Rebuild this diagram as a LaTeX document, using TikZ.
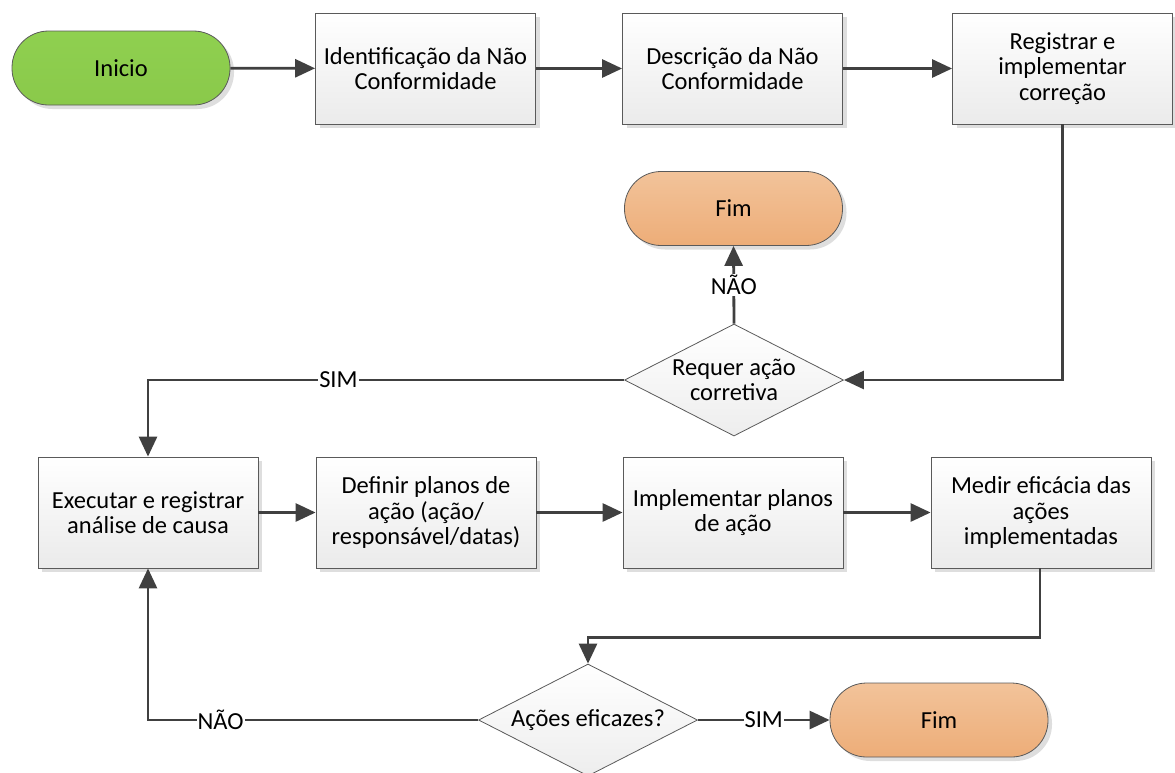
\documentclass[tikz,border=0pt]{standalone}
\usepackage{fontspec}
\setmainfont{Carlito}
\usetikzlibrary{shapes.geometric,shadows,arrows.meta}
\definecolor{linec}{HTML}{404040}
\definecolor{borderc}{HTML}{5A5A5A}
\definecolor{greentop}{HTML}{8FD050}
\definecolor{greenbot}{HTML}{8AC94A}
\definecolor{orangetop}{HTML}{F2C39A}
\definecolor{orangebot}{HTML}{EDAD78}
\begin{document}
\begin{tikzpicture}[x=1pt,y=-1pt,
  font=\fontsize{24.5}{25.5}\selectfont,
  shade/.style={general shadow={fill=black!13, shadow xshift=4pt, shadow yshift=-4pt}},
  procbox/.style={draw=borderc, line width=0.8pt, top color=white, bottom color=black!8,
    minimum width=220pt, minimum height=111pt, align=center, inner sep=2pt, shade},
  startnode/.style={draw=borderc, line width=0.8pt, rounded corners=36.5pt,
    top color=greentop, bottom color=greenbot, minimum width=218pt, minimum height=74pt, shade},
  endnode/.style={draw=borderc, line width=0.8pt, rounded corners=36.5pt,
    top color=orangetop, bottom color=orangebot, minimum width=218pt, minimum height=74pt, shade},
  decision/.style={draw=borderc, line width=0.8pt, shape=diamond, aspect=2, inner sep=0pt,
    top color=white, bottom color=black!7, minimum width=219pt, minimum height=112pt, align=center},
  conn/.style={draw=linec, line width=2.8pt, -{Triangle[length=20pt,width=18pt]}},
  lbl/.style={fill=white, inner sep=1pt, text=black}
]
\useasboundingbox (0,0) rectangle (1175,772);

\node[startnode] (inicio) at (121,68) {Inicio};
\node[procbox] (b1) at (425.5,68.5) {Identificação da Não\\Conformidade};
\node[procbox] (b2) at (732.5,68.5) {Descrição da Não\\Conformidade};
\node[procbox] (b3) at (1062.5,68.5) {Registrar e\\implementar\\correção};

\node[decision] (d1) at (734,380) {Requer ação\\corretiva};
\node[endnode] (f1) at (733.5,208.5) {Fim};

\node[procbox] (b4) at (148,512.5) {Executar e registrar\\análise de causa};
\node[procbox] (b5) at (426,512.5) {Definir planos de\\ação (ação/\\responsável/datas)};
\node[procbox] (b6) at (733,512.5) {Implementar planos\\de ação};
\node[procbox] (b7) at (1041,512.5) {Medir eficácia das\\ações\\implementadas};

\node[decision] (d2) at (588,720) {Ações eficazes?};
\node[endnode] (f2) at (939,720) {Fim};

\draw[conn] (inicio) -- (b1);
\draw[conn] (b1) -- (b2);
\draw[conn] (b2) -- (b3);
\draw[conn] (b3.south) |- (d1.east);
\draw[conn] (d1.north) -- node[lbl] {NÃO} (f1.south);
\draw[conn] (d1.west) -| node[lbl, pos=0.3] {SIM} (b4.north);
\draw[conn] (b4) -- (b5);
\draw[conn] (b5) -- (b6);
\draw[conn] (b6) -- (b7);
\coordinate (c7) at (1040,637.5);
\draw[conn] (b7.south -| c7) -- (c7) -| (d2.north);
\draw[conn] (d2.east) -- node[lbl] {SIM} (f2.west);
\draw[conn] (d2.west) -| node[lbl, pos=0.39] {NÃO} (b4.south);
\end{tikzpicture}
\end{document}
